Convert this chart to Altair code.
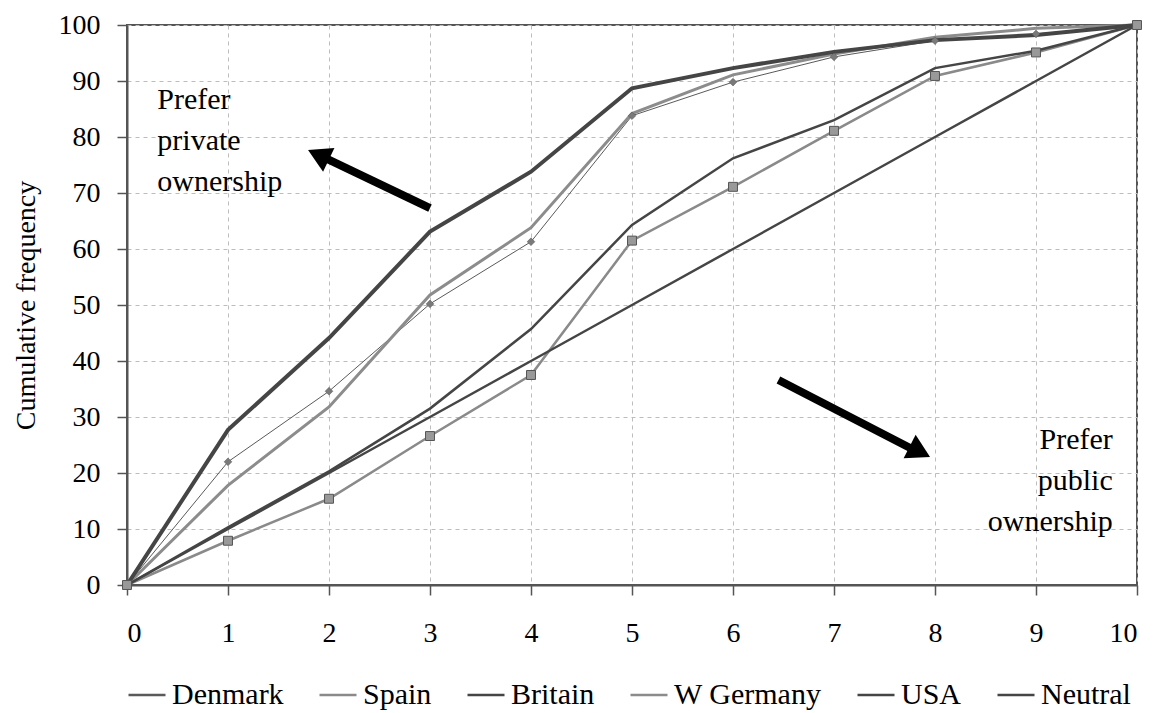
import altair as alt
import pandas as pd

# ---- data ----
x_vals = [0, 1, 2, 3, 4, 5, 6, 7, 8, 9, 10]
denmark = [0, 22.0, 34.6, 50.2, 61.3, 83.8, 89.8, 94.3, 97.2, 98.4, 100]
spain = [0, 7.9, 15.4, 26.6, 37.5, 61.5, 71.1, 81.1, 90.9, 95.1, 100]
britain = [0, 10.3, 20.3, 31.5, 45.7, 64.3, 76.2, 83.0, 92.3, 95.4, 100]
w_germany = [0, 17.8, 31.8, 51.8, 63.8, 84.2, 91.1, 94.8, 97.8, 99.4, 100]
usa = [0, 27.7, 44.1, 63.1, 73.8, 88.7, 92.3, 95.2, 97.3, 98.2, 100]
neutral = [0, 10, 20, 30, 40, 50, 60, 70, 80, 90, 100]
y_ticks = [0, 10, 20, 30, 40, 50, 60, 70, 80, 90, 100]

series_names = ["Denmark", "Spain", "Britain", "W Germany", "USA", "Neutral"]
series_colors = ["#5a5a5a", "#8a8a8a", "#454545", "#8c8c8c", "#454545", "#454545"]
series_widths = [1, 2.5, 2.5, 3, 4, 2.5]

# annotations
ann_private_x = [0.3]
ann_private_y = [86.6]
ann_private_text = ["Prefer\nprivate\nownership"]
ann_public_x = [9.76]
ann_public_y = [25.9]
ann_public_text = ["Prefer\npublic\nownership"]

# arrows: tail (x, y) -> shaft end (x2, y2); head centre and rotation
arrow_x = [3.0, 6.45]
arrow_y = [67.3, 36.6]
arrow_x2 = [1.97, 7.75]
arrow_y2 = [76.2, 24.5]
head_x = [1.895, 7.85]
head_y = [76.8, 23.8]
head_angle = [295.4, 116.9]

FONT = "Liberation Serif"

rows = []
for name, w, vals in zip(series_names, series_widths,
                         [denmark, spain, britain, w_germany, usa, neutral]):
    for xv, yv in zip(x_vals, vals):
        rows.append({"x": xv, "y": yv, "series": name, "w": w})
df = pd.DataFrame(rows)

xs = alt.Scale(domain=[0, 10], nice=False, zero=False)
ys = alt.Scale(domain=[0, 100], nice=False)

X = alt.X("x:Q", scale=xs, axis=alt.Axis(values=x_vals, title=None, format="d",
                                          labelFont=FONT, labelFontSize=28, labelPadding=24))
Y = alt.Y("y:Q", scale=ys, axis=alt.Axis(values=y_ticks, format="d",
                                          title="Cumulative frequency",
                                          labelFont=FONT, labelFontSize=28, titleFont=FONT,
                                          titleFontSize=28, labelPadding=17, titlePadding=18))

lines = alt.Chart(df).mark_line().encode(
    x=X, y=Y,
    color=alt.Color("series:N", sort=series_names,
                    scale=alt.Scale(domain=series_names, range=series_colors),
                    legend=alt.Legend(title=None, orient="bottom", direction="horizontal",
                                      symbolType="stroke", symbolSize=1369, symbolStrokeWidth=2.5,
                                      labelFont=FONT, labelFontSize=30,
                                      labelColor="black", columnPadding=30,
                                      labelOffset=5, offset=28)),
    strokeWidth=alt.StrokeWidth("w:Q", scale=None, legend=None),
    order=alt.Order("x:Q"),
)

den_pts = alt.Chart(df).transform_filter(alt.datum.series == "Denmark").mark_point(
    shape="diamond", filled=True, color="#7a7a7a", stroke="#555", strokeWidth=0.5, size=60, opacity=1
).encode(x="x:Q", y="y:Q")

spa_pts = alt.Chart(df).transform_filter(alt.datum.series == "Spain").mark_point(
    shape="square", filled=True, fill="#999999", stroke="#555555", strokeWidth=1, size=80, opacity=1
).encode(x="x:Q", y="y:Q")

arrow_df = pd.DataFrame({"x": arrow_x, "y": arrow_y, "x2": arrow_x2, "y2": arrow_y2})
head_df = pd.DataFrame({"x": head_x, "y": head_y, "angle": head_angle})

shafts = alt.Chart(arrow_df).mark_rule(color="black", strokeWidth=8).encode(
    x="x:Q", y="y:Q", x2="x2:Q", y2="y2:Q")
heads = alt.Chart(head_df).mark_point(shape="triangle-up", filled=True, color="black",
                                      size=700, opacity=1).encode(
    x="x:Q", y="y:Q", angle=alt.Angle("angle:Q", scale=None))

priv = alt.Chart(pd.DataFrame({"x": ann_private_x, "y": ann_private_y, "t": ann_private_text})).mark_text(
    align="left", baseline="middle", font=FONT, fontSize=30, lineBreak="\n", lineHeight=41, color="black"
).encode(x="x:Q", y="y:Q", text="t:N")

pub = alt.Chart(pd.DataFrame({"x": ann_public_x, "y": ann_public_y, "t": ann_public_text})).mark_text(
    align="right", baseline="middle", font=FONT, fontSize=30, lineBreak="\n", lineHeight=41, color="black"
).encode(x="x:Q", y="y:Q", text="t:N")

chart = alt.layer(lines, den_pts, spa_pts, shafts, heads, priv, pub).properties(
    width=1010, height=560,
    padding={"left": 4, "top": 3, "right": 0, "bottom": 0},
).configure_view(
    stroke="#555555", strokeWidth=2
).configure_axis(
    labelColor="black", titleFontWeight="normal", titleColor="black",
    domainColor="#555555", domainWidth=2, tickColor="#555555", tickWidth=1.5, tickSize=10,
    gridColor="#bdbdbd", gridDash=[4, 4], gridWidth=1,
)

chart.save("out.html", embed_options={"renderer": "svg", "actions": False})
